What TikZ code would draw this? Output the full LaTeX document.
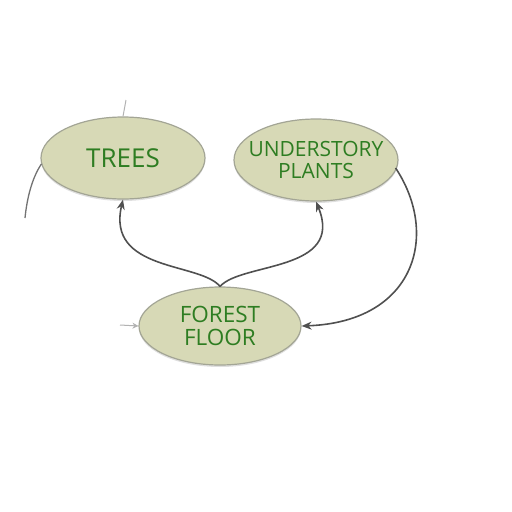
\documentclass[tikz,border=0pt]{standalone}
\usepackage{fontspec}
\setmainfont{Open Sans}
\usetikzlibrary{shapes.geometric,arrows.meta,shadows}
\definecolor{fillc}{HTML}{D7D9B6}
\definecolor{edgec}{HTML}{A3A595}
\definecolor{textc}{HTML}{2E7D22}
\definecolor{linec}{HTML}{505050}
\tikzset{
  blob/.style={ellipse, draw=edgec, line width=1.2pt, fill=fillc, inner sep=0pt,
    drop shadow={shadow xshift=0pt, shadow yshift=-2pt, opacity=0.25, fill=gray}},
  txt/.style={text=textc, align=center, inner sep=0pt},
  conn/.style={draw=linec, line width=1.6pt, -{Stealth[length=10pt,width=8pt]}},
  faint/.style={draw=gray!60, line width=1pt},
}
\begin{document}
\begin{tikzpicture}[x=1pt,y=-1pt]
\useasboundingbox (0,0) rectangle (512,512);
\node[blob, minimum width=164pt, minimum height=82pt] (trees) at (123,158) {};
\node[txt, font=\fontsize{26}{28}\selectfont] (treest) at (trees.center) {TREES};
\node[blob, minimum width=164pt, minimum height=82pt] (under) at (316,160) {};
\node[txt, font=\fontsize{21}{22.5}\selectfont] (undert) at (under.center) {UNDERSTORY\\PLANTS};
\node[blob, minimum width=162pt, minimum height=78pt] (floor) at (220,326) {};
\node[txt, font=\fontsize{22.5}{23.5}\selectfont] (floort) at (floor.center) {FOREST\\FLOOR};
% floor to trees
\draw[conn] (floor.north) .. controls (200,262) and (106,272) .. (trees.south);
% floor to understory
\draw[conn] (floor.north) .. controls (242,262) and (345,272) .. (under.south);
% understory around to floor
\draw[conn] (under.east) ++(-3,8) coordinate (ue) (ue) .. controls (440,235) and (415,322) .. (floor.east);
% left arc from trees
\coordinate (lend) at (25,218);
\draw[linec!80, line width=1.3pt] (trees.west) ++(1,6) coordinate (tw) (tw) .. controls (32,178) and (27,198) .. (lend);
% small faint marks
\coordinate (la) at (120,325);
\draw[faint, -{Stealth[length=6pt,width=6pt]}] (la) -- (floor.west);
\coordinate (ta) at (126,100);
\draw[faint] (ta) -- (trees.north);
\end{tikzpicture}
\end{document}
